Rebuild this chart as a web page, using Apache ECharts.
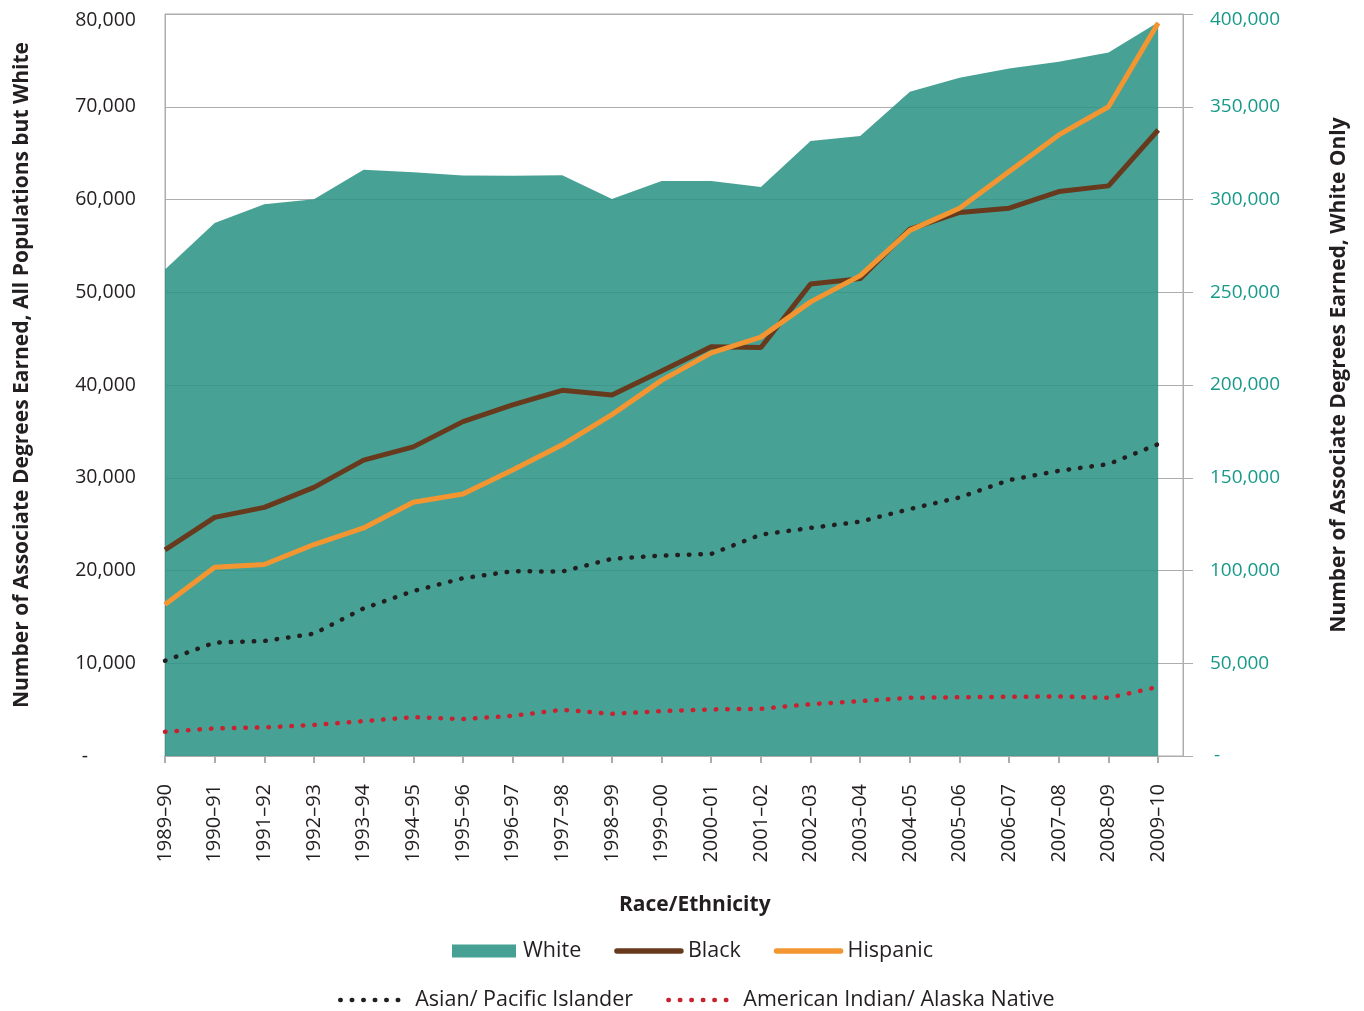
<!DOCTYPE html>
<html>
<head>
<meta charset="utf-8">
<script src="https://cdn.jsdelivr.net/npm/echarts@6/dist/echarts.min.js"></script>
<style>
html,body{margin:0;padding:0;background:#fff;}
#chart{width:1364px;height:1011px;}
</style>
</head>
<body>
<div id="chart"></div>
<script>
const categories = ['1989–90','1990–91','1991–92','1992–93','1993–94','1994–95','1995–96','1996–97','1997–98','1998–99','1999–00','2000–01','2001–02','2002–03','2003–04','2004–05','2005–06','2006–07','2007–08','2008–09','2009–10'];
const white = [262200, 287300, 297500, 300200, 316000, 314700, 312900, 312800, 313100, 300300, 310000, 310000, 306800, 331600, 334200, 358100, 365600, 370600, 374200, 379200, 395500];
const black = [22220, 25730, 26810, 28960, 31900, 33330, 36050, 37850, 39430, 38920, 41500, 44120, 44050, 50890, 51470, 56810, 58600, 59060, 60860, 61470, 67490];
const hispanic = [16340, 20360, 20650, 22800, 24590, 27350, 28240, 30830, 33550, 36800, 40500, 43470, 45160, 48960, 51790, 56670, 59060, 63010, 66960, 70000, 79030];
const asian = [10270, 12230, 12400, 13190, 15910, 17780, 19170, 19920, 19890, 21260, 21610, 21790, 23870, 24590, 25270, 26630, 27880, 29750, 30750, 31470, 33620];
const amIndian = [2610, 2980, 3080, 3350, 3760, 4190, 3980, 4330, 4980, 4550, 4840, 5020, 5090, 5590, 5910, 6270, 6340, 6380, 6420, 6270, 7450];
const leftTicks = [0, 10000, 20000, 30000, 40000, 50000, 60000, 70000, 80000];
const rightTicks = [0, 50000, 100000, 150000, 200000, 250000, 300000, 350000, 400000];

const FONT = 'Open Sans';
const TXT = '#231F20';
const GRAY = '#ADADAD';
const TEAL_TXT = '#17998A';
const C_WHITE = '#46A194', C_BLACK = '#673A1E', C_HISP = '#F39632', C_ASIAN = '#231F20', C_AMIND = '#C9212F';
const DOTS = [0.5, 11];
const pts = arr => arr.map((v, i) => [i, v]);
const idx = categories.map((c, i) => i);
const fmt = v => v.toLocaleString('en-US');

const chart = echarts.init(document.getElementById('chart'), null, {renderer: 'canvas'});
chart.setOption({
  animation: false,
  backgroundColor: '#fff',
  textStyle: {fontFamily: FONT, color: TXT},
  title: {
    text: 'Race/Ethnicity', left: 619, top: 895, padding: 0,
    textStyle: {fontFamily: FONT, fontSize: 21, fontWeight: 'bold', color: TXT}
  },
  grid: {left: 165, right: 181, top: 14, bottom: 255, show: true, borderColor: GRAY, borderWidth: 1, backgroundColor: 'transparent'},
  legend: [
    {
      data: [
        {name: 'White', icon: 'rect', itemStyle: {opacity: 1, color: C_WHITE}},
        {name: 'Black', lineStyle: {width: 5.5, color: C_BLACK, cap: 'round'}},
        {name: 'Hispanic', lineStyle: {width: 5.5, color: C_HISP, cap: 'round'}}
      ],
      left: 452, top: 940, padding: 0,
      itemWidth: 64, itemHeight: 13, itemGap: 33,
      itemStyle: {opacity: 0},
      textStyle: {fontFamily: FONT, fontSize: 21.5, color: TXT, padding: [0, 0, 0, 2]}
    },
    {
      data: [
        {name: 'Asian/ Pacific Islander', lineStyle: {width: 4.5, color: C_ASIAN, type: DOTS, cap: 'round'}},
        {name: 'American Indian/ Alaska Native', lineStyle: {width: 4.5, color: C_AMIND, type: DOTS, cap: 'round'}}
      ],
      left: 338, top: 989, padding: 0,
      itemWidth: 64, itemHeight: 13, itemGap: 33,
      itemStyle: {opacity: 0},
      textStyle: {fontFamily: FONT, fontSize: 21.5, color: TXT, padding: [0, 0, 0, 6]}
    }
  ],
  xAxis: {
    type: 'value', min: 0, max: 20.5,
    axisLine: {show: true, lineStyle: {color: GRAY, width: 1}},
    axisTick: {show: true, customValues: idx, length: 7, lineStyle: {color: GRAY, width: 2}},
    axisLabel: {
      customValues: idx, rotate: 90, margin: 28,
      fontFamily: FONT, fontSize: 20, color: TXT,
      formatter: v => categories[Math.round(v)]
    },
    splitLine: {show: false}
  },
  yAxis: [
    {
      type: 'value', min: 0, max: 80000, interval: 10000, position: 'left',
      name: 'Number of Associate Degrees Earned, All Populations but White',
      nameLocation: 'middle', nameRotate: 90, nameGap: 132,
      nameTextStyle: {fontFamily: FONT, fontSize: 21, fontWeight: 'bold', color: TXT, padding: [0, 0, 0, 20]},
      axisLine: {show: true, lineStyle: {color: GRAY}},
      axisTick: {show: false},
      axisLabel: {
        margin: 29, fontFamily: FONT, fontSize: 19.5, color: TXT,
        formatter: v => v === 0 ? '{z|-}' : (v === 80000 ? '{t|' + fmt(v) + '}' : fmt(v)),
        rich: {
          z: {fontFamily: FONT, fontSize: 19.5, color: TXT, padding: [0, 48, 0, 0]},
          t: {fontFamily: FONT, fontSize: 19.5, color: TXT, padding: [12, 0, 0, 0]}
        }
      },
      splitLine: {show: true, lineStyle: {color: GRAY, width: 1}}
    },
    {
      type: 'value', min: 0, max: 400000, interval: 50000, position: 'right',
      name: 'Number of Associate Degrees Earned, White Only',
      nameLocation: 'middle', nameRotate: 90, nameGap: 146,
      nameTextStyle: {fontFamily: FONT, fontSize: 21, fontWeight: 'bold', color: TXT, padding: [0, 0, 0, 20]},
      axisLine: {show: true, lineStyle: {color: GRAY}},
      axisTick: {show: true, inside: false, length: 10, lineStyle: {color: GRAY}},
      axisLabel: {
        margin: 27, fontFamily: FONT, fontSize: 19, color: TEAL_TXT,
        formatter: v => v === 0 ? '{z|-}' : (v === 400000 ? '{t|' + fmt(v) + '}' : fmt(v)),
        rich: {
          z: {fontFamily: FONT, fontSize: 19, color: TEAL_TXT, padding: [0, 0, 0, 4]},
          t: {fontFamily: FONT, fontSize: 19, color: TEAL_TXT, padding: [12, 0, 0, 0]}
        }
      },
      splitLine: {show: false}
    }
  ],
  series: [
    {
      name: 'White', type: 'line', yAxisIndex: 1, data: pts(white),
      symbol: 'none', color: C_WHITE,
      lineStyle: {width: 0},
      areaStyle: {color: 'rgb(45,148,133)', opacity: 0.88},
      z: 1
    },
    {
      name: 'Black', type: 'line', yAxisIndex: 0, data: pts(black),
      symbol: 'none', color: C_BLACK,
      lineStyle: {width: 5, color: C_BLACK}, z: 3
    },
    {
      name: 'Hispanic', type: 'line', yAxisIndex: 0, data: pts(hispanic),
      symbol: 'none', color: C_HISP,
      lineStyle: {width: 5, color: C_HISP}, z: 4
    },
    {
      name: 'Asian/ Pacific Islander', type: 'line', yAxisIndex: 0, data: pts(asian),
      symbol: 'none', color: C_ASIAN,
      lineStyle: {width: 4.5, color: C_ASIAN, type: DOTS, cap: 'round'}, z: 3
    },
    {
      name: 'American Indian/ Alaska Native', type: 'line', yAxisIndex: 0, data: pts(amIndian),
      symbol: 'none', color: C_AMIND,
      lineStyle: {width: 4.5, color: C_AMIND, type: DOTS, cap: 'round'}, z: 3
    }
  ]
});
</script>
</body>
</html>
